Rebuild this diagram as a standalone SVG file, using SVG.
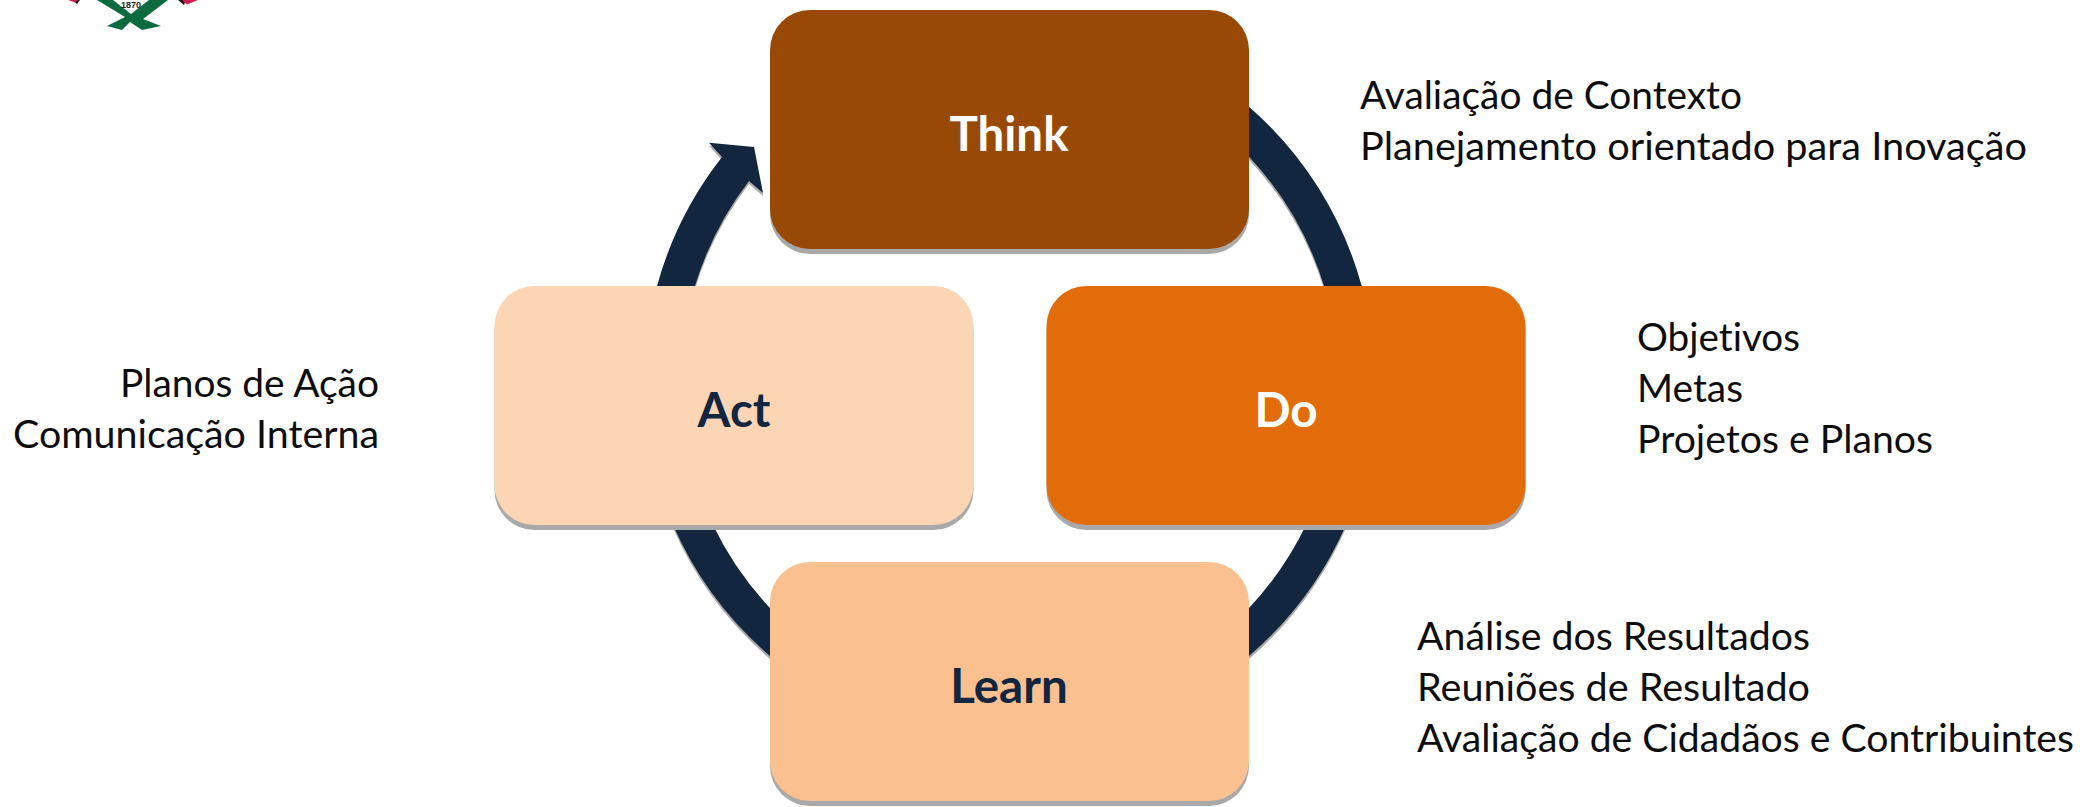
<svg xmlns="http://www.w3.org/2000/svg" width="2080" height="807" viewBox="0 0 2080 807">
<defs>
<style>
.t{font-family:Lato,"Liberation Sans",sans-serif;font-size:39.4px;fill:#0d0d0d;font-variant-ligatures:none}
.n{font-family:Lato,"Liberation Sans",sans-serif;font-size:47.5px;font-weight:700;text-anchor:middle;font-variant-ligatures:none}
.s{fill:#a9a9a9}
.a{fill:#12263f}
</style>
<path id="ring" d="M709 142.700L754 147L763 193L749 181A330 330 0 0 0 695 286L657 286A366 366 0 0 1 722 157ZM1249 106.700A366 366 0 0 1 1361.700 286L1324 286A330 330 0 0 0 1249 156.700ZM1346 525A366 366 0 0 1 1249 656L1249 608A330 330 0 0 0 1306 525ZM673 525A366 366 0 0 0 770 656L770 608A330 330 0 0 1 713 525Z"/>
</defs>
<rect width="2080" height="807" fill="#fff"/>
<g id="logo">
<path fill="#1a1a1a" d="M72 0H80L77 4ZM178 0H186L184 5Z"/>
<path fill="#ce1f4b" d="M68 0H78L75 2.500ZM182 0H198L187 4.500Z"/>
<path fill="#0b6b3f" d="M97 0H113L131 14L149 0H168L143 19L161 26L142 30L130 22L122 30L107 26L125 17Z"/>
<text x="131" y="8" font-family="Liberation Sans,sans-serif" font-size="9" font-weight="700" text-anchor="middle" fill="#222">1870</text>
</g>
<g id="connectors">
<use href="#ring" class="s" y="3"/>
<use href="#ring" class="a"/>
</g>
<g id="think"><rect class="s" x="770" y="15" width="479" height="239" rx="40"/><rect x="770" y="10" width="479" height="239" rx="40" fill="#994906"/><text class="n" x="1009" y="151" fill="#fff">Think</text></g>
<g id="do"><rect class="s" x="1046.500" y="291" width="479" height="239" rx="40"/><rect x="1046.500" y="286" width="479" height="239" rx="40" fill="#e36c0a"/><text class="n" x="1286" y="427" fill="#fff">Do</text></g>
<g id="learn"><rect class="s" x="770" y="567" width="479" height="239" rx="40"/><rect x="770" y="562" width="479" height="239" rx="40" fill="#fac090"/><text class="n" x="1009" y="703" fill="#12263f">Learn</text></g>
<g id="act"><rect class="s" x="494.500" y="291" width="479" height="239" rx="40"/><rect x="494.500" y="286" width="479" height="239" rx="40" fill="#fcd5b5"/><text class="n" x="734" y="427" fill="#12263f">Act</text></g>
<g id="labels">
<text class="t" x="1360" y="109" textLength="382" lengthAdjust="spacingAndGlyphs">Avaliação de Contexto</text>
<text class="t" x="1360" y="160" textLength="667" lengthAdjust="spacingAndGlyphs">Planejamento orientado para Inovação</text>
<text class="t" x="1637" y="351" textLength="163" lengthAdjust="spacingAndGlyphs">Objetivos</text>
<text class="t" x="1637" y="402" textLength="106" lengthAdjust="spacingAndGlyphs">Metas</text>
<text class="t" x="1637" y="453" textLength="296" lengthAdjust="spacingAndGlyphs">Projetos e Planos</text>
<text class="t" x="1417" y="650" textLength="393" lengthAdjust="spacingAndGlyphs">Análise dos Resultados</text>
<text class="t" x="1417" y="701" textLength="393" lengthAdjust="spacingAndGlyphs">Reuniões de Resultado</text>
<text class="t" x="1417" y="752" textLength="657" lengthAdjust="spacingAndGlyphs">Avaliação de Cidadãos e Contribuintes</text>
<text class="t" x="379" y="397" text-anchor="end" textLength="259" lengthAdjust="spacingAndGlyphs">Planos de Ação</text>
<text class="t" x="379" y="448" text-anchor="end" textLength="366" lengthAdjust="spacingAndGlyphs">Comunicação Interna</text>
</g>
</svg>
